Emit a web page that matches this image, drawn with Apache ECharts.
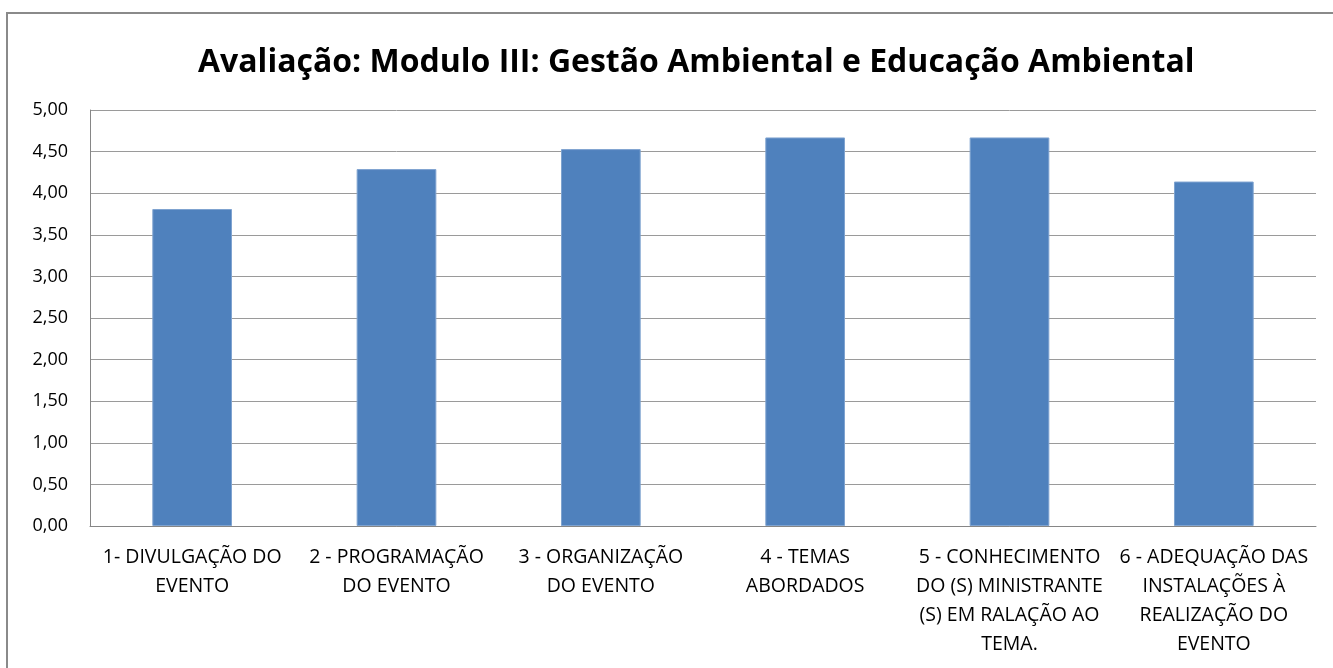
<!DOCTYPE html>
<html><head><meta charset="utf-8">
<script src="https://cdn.jsdelivr.net/npm/echarts@6/dist/echarts.min.js"></script>
<style>html,body{margin:0;padding:0;background:#fff}#c{width:1333px;height:668px}</style>
</head><body><div id="c"></div>
<script>
const titleText = 'Avaliação: Modulo III: Gestão Ambiental e Educação Ambiental';
const categories = [
  '1- DIVULGAÇÃO DO\nEVENTO',
  '2 - PROGRAMAÇÃO\nDO EVENTO',
  '3 - ORGANIZAÇÃO\nDO EVENTO',
  '4 - TEMAS\nABORDADOS',
  '5 - CONHECIMENTO\nDO (S) MINISTRANTE\n(S) EM RALAÇÃO AO\nTEMA.',
  '6 - ADEQUAÇÃO DAS\nINSTALAÇÕES À\nREALIZAÇÃO DO\nEVENTO'
];
const values = [3.81, 4.29, 4.53, 4.67, 4.67, 4.14];
const yMin = 0, yMax = 5, yStep = 0.5;

const chart = echarts.init(document.getElementById('c'), null, {renderer: 'canvas'});
const font = '"Open Sans", sans-serif';
chart.setOption({
  animation: false,
  graphic: [{
    type: 'rect', shape: {x: 7, y: 13, width: 1360, height: 700},
    style: {fill: 'none', stroke: '#8a8a8a', lineWidth: 2}, silent: true
  }],
  title: {
    text: titleText, left: 193, top: 42,
    textStyle: {fontFamily: font, fontWeight: 'bold', fontSize: 32, color: '#000'}
  },
  grid: {left: 90, right: 17, top: 110, bottom: 142},
  xAxis: {
    type: 'category', data: categories,
    axisLine: {lineStyle: {color: '#868686', width: 1}},
    axisTick: {show: false},
    axisLabel: {interval: 0, margin: 17, fontFamily: font, fontSize: 19.5, color: '#000', lineHeight: 29, align: 'center'}
  },
  yAxis: {
    type: 'value', min: yMin, max: yMax, interval: yStep,
    axisLine: {show: true, lineStyle: {color: '#868686'}},
    axisTick: {show: false},
    splitLine: {lineStyle: {color: '#9a9a9a', width: 1}},
    axisLabel: {margin: 22, fontFamily: font, fontSize: 18, color: '#000',
      formatter: v => v.toFixed(2).replace('.', ',')}
  },
  series: [{
    type: 'bar', data: values, barWidth: '39%',
    itemStyle: {color: '#4F81BD', borderColor: '#7fa3d0', borderWidth: 1}
  }]
});
</script></body></html>
